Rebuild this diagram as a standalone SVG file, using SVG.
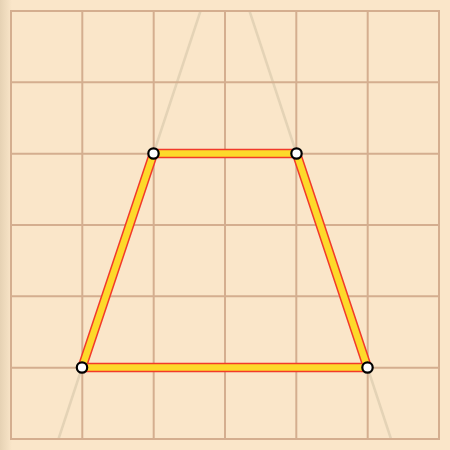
<svg xmlns="http://www.w3.org/2000/svg" width="450" height="450" viewBox="0 0 450 450">
<defs>
<linearGradient id="lg" x1="0" y1="0" x2="1" y2="0">
<stop offset="0" stop-color="#e6d2b4"/>
<stop offset="1" stop-color="#fae6c9"/>
</linearGradient>
<style>
.grid{stroke:#d4ae8f;stroke-width:2;fill:none}
.faint{stroke:#e4d3b6;stroke-width:2.5;fill:none}
.edge-o{stroke:#f23a2a;stroke-width:9.5;fill:none;stroke-linejoin:round}
.edge-i{stroke:#fdd92a;stroke-width:6.5;fill:none;stroke-linejoin:round}
.pt{fill:#fff;stroke:#000;stroke-width:2.2}
</style>
</defs>
<rect width="450" height="450" fill="#fae6c9"/>
<rect width="12" height="450" fill="url(#lg)"/>
<g id="faint-lines">
<line class="faint" x1="82" y1="367.5" x2="58.5" y2="439"/>
<line class="faint" x1="153.5" y1="153.5" x2="200.5" y2="11"/>
<line class="faint" x1="296.5" y1="153.5" x2="249.5" y2="11"/>
<line class="faint" x1="367.5" y1="367.5" x2="391" y2="439"/>
</g>
<g id="grid" class="grid">
<rect x="11" y="11" width="428" height="428"/>
<path d="M82.3 11V439M153.7 11V439M225 11V439M296.3 11V439M367.7 11V439M11 82.3H439M11 153.7H439M11 225H439M11 296.3H439M11 367.7H439"/>
</g>
<g id="connectors">
<polygon class="edge-o" points="153.5,153.5 296.5,153.5 367.5,367.5 82,367.5"/>
<polygon class="edge-i" points="153.5,153.5 296.5,153.5 367.5,367.5 82,367.5"/>
</g>
<g id="A"><circle class="pt" cx="153.5" cy="153.5" r="5.2"/></g>
<g id="B"><circle class="pt" cx="296.5" cy="153.5" r="5.2"/></g>
<g id="C"><circle class="pt" cx="367.5" cy="367.5" r="5.2"/></g>
<g id="D"><circle class="pt" cx="82" cy="367.5" r="5.2"/></g>
</svg>
